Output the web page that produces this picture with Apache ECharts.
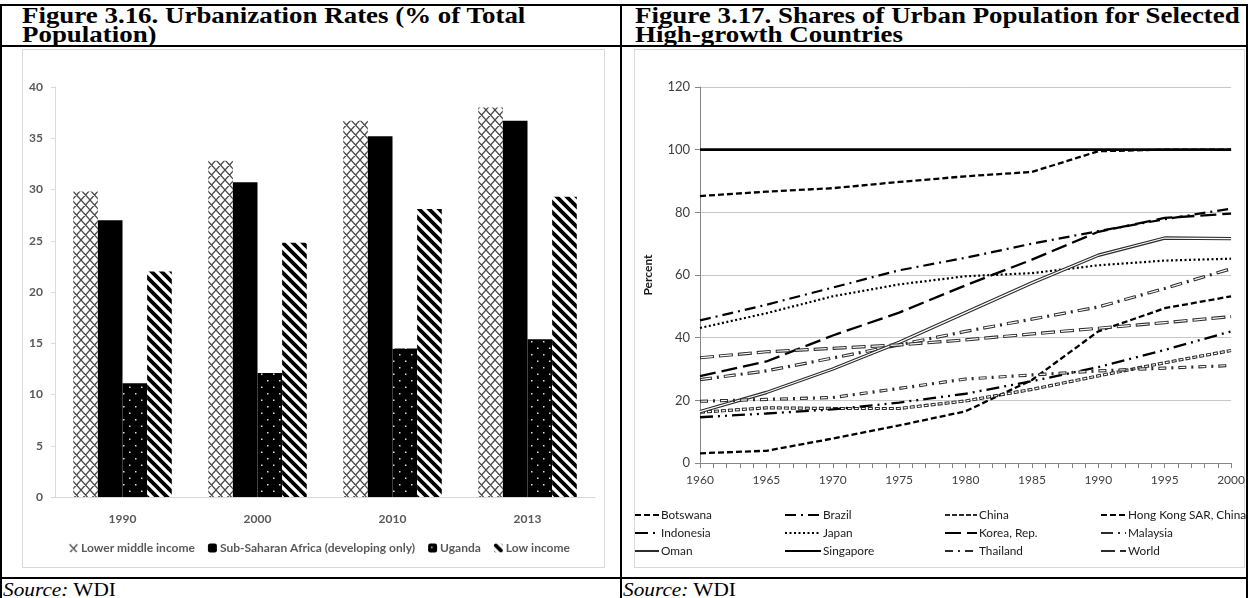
<!DOCTYPE html>
<html><head><meta charset="utf-8">
<script src="https://cdn.jsdelivr.net/npm/echarts@6/dist/echarts.min.js"></script>
<style>
html,body{margin:0;padding:0;width:1248px;height:598px;overflow:hidden;background:#fff;}
.ln{position:absolute;background:#000;}
.frame{position:absolute;border:1px solid #d9d9d9;box-sizing:border-box;}
.title{position:absolute;font-family:"Liberation Serif","Times New Roman",serif;font-weight:bold;font-size:23px;line-height:19px;color:#000;white-space:nowrap;transform:scaleX(1.17);transform-origin:0 0;}
.src{position:absolute;font-family:"Liberation Serif","Times New Roman",serif;font-size:19px;line-height:20px;color:#000;white-space:nowrap;transform:scaleX(1.12);transform-origin:0 0;}
#chart{position:absolute;left:0;top:0;width:1248px;height:598px;}
</style></head><body>
<div class="ln" style="left:0px;top:4px;width:1248px;height:2px"></div>
<div class="ln" style="left:0px;top:4px;width:2px;height:594px"></div>
<div class="ln" style="left:620px;top:4px;width:2px;height:594px"></div>
<div class="ln" style="left:1246px;top:4px;width:2px;height:594px"></div>
<div class="ln" style="left:0px;top:45px;width:1248px;height:2px"></div>
<div class="ln" style="left:0px;top:577px;width:1248px;height:2px"></div>
<div class="title" style="left:22px;top:6px">Figure 3.16. Urbanization Rates (% of Total<br>Population)</div>
<div class="title" style="left:635px;top:6px">Figure 3.17. Shares of Urban Population for Selected<br>High-growth Countries</div>
<div class="frame" style="left:22px;top:49px;width:583px;height:519px"></div>
<div class="frame" style="left:634px;top:49px;width:611px;height:519px"></div>
<div class="src" style="left:3px;top:580px"><i>Source:</i> WDI</div>
<div class="src" style="left:623px;top:580px"><i>Source:</i> WDI</div>
<div id="chart"></div>
<script>
// ---------- Figure 3.16 data ----------
const barYears = ['1990', '2000', '2010', '2013'];
const lowerMiddleIncome = [29.8, 32.8, 36.7, 38.0];
const subSaharanAfrica = [27.0, 30.7, 35.2, 36.7];
const uganda = [11.1, 12.1, 14.5, 15.4];
const lowIncome = [22.0, 24.8, 28.1, 29.3];
const barNames = ['Lower middle income', 'Sub-Saharan Africa (developing only)', 'Uganda', 'Low income'];
const barYTicks = [0, 5, 10, 15, 20, 25, 30, 35, 40];

// ---------- Figure 3.17 data ----------
const lineYears = [1960, 1965, 1970, 1975, 1980, 1985, 1990, 1995, 2000];
const botswana = [3.1, 3.9, 7.8, 12.0, 16.5, 26.5, 42.0, 49.4, 53.2];
const brazil = [45.5, 50.5, 56.0, 61.5, 65.5, 70.0, 74.0, 77.8, 81.2];
const china = [16.2, 17.6, 17.4, 17.4, 19.8, 23.5, 27.8, 32.0, 35.9];
const hongKong = [85.2, 86.6, 87.7, 89.7, 91.5, 92.9, 99.5, 100, 100];
const indonesia = [14.6, 15.8, 17.1, 19.3, 22.1, 26.1, 30.6, 36.1, 42.0];
const japan = [43.1, 47.8, 53.2, 57.0, 59.6, 60.6, 63.1, 64.6, 65.2];
const korea = [27.7, 32.4, 40.7, 48.0, 56.7, 64.9, 73.8, 78.2, 79.6];
const malaysia = [26.6, 29.4, 33.5, 37.7, 42.0, 45.9, 49.8, 55.7, 62.0];
const oman = [16.4, 22.5, 30.0, 38.5, 48.0, 57.5, 66.3, 71.8, 71.6];
const singapore = [100, 100, 100, 100, 100, 100, 100, 100, 100];
const thailand = [19.7, 20.3, 20.9, 23.8, 26.8, 28.1, 29.4, 30.3, 31.1];
const world = [33.6, 35.5, 36.6, 37.7, 39.3, 41.2, 43.0, 44.8, 46.7];
const lineNames = ['Botswana', 'Brazil', 'China', 'Hong Kong SAR, China', 'Indonesia', 'Japan', 'Korea, Rep.', 'Malaysia', 'Oman', 'Singapore', 'Thailand', 'World'];
const lineValues = [botswana, brazil, china, hongKong, indonesia, japan, korea, malaysia, oman, singapore, thailand, world];
const lineYTicks = [0, 20, 40, 60, 80, 100, 120];

// ---------- patterns ----------
function tile(w, h, draw) {
  const c = document.createElement('canvas'); c.width = w; c.height = h;
  const g = c.getContext('2d'); draw(g, w, h); return c;
}
const patCross = tile(9, 10, (g, w, h) => {
  g.fillStyle = '#fff'; g.fillRect(0, 0, w, h);
  g.strokeStyle = '#4a4a4a'; g.lineWidth = 1.3; g.beginPath();
  for (const dx of [-w, 0, w]) for (const dy of [-h, 0, h]) {
    g.moveTo(dx, dy); g.lineTo(dx + w, dy + h);
    g.moveTo(dx + w, dy); g.lineTo(dx, dy + h);
  }
  g.stroke();
});
const patDots = tile(12, 13, (g, w, h) => {
  g.fillStyle = '#000'; g.fillRect(0, 0, w, h);
  g.fillStyle = '#ddd';
  g.fillRect(3, 3, 1.5, 1.5); g.fillRect(9, 9.5, 1.5, 1.5);
});
const patStripe = tile(10, 10, (g, w, h) => {
  g.fillStyle = '#fff'; g.fillRect(0, 0, w, h);
  g.strokeStyle = '#000'; g.lineWidth = 3.8; g.beginPath();
  for (const o of [-20, -10, 0, 10, 20]) { g.moveTo(o - 10, -10); g.lineTo(o + 20, 20); }
  g.stroke();
});
const barFills = [
  { image: patCross, repeat: 'repeat' },
  '#000',
  { image: patDots, repeat: 'repeat' },
  { image: patStripe, repeat: 'repeat' }
];
const barValues = [lowerMiddleIncome, subSaharanAfrica, uganda, lowIncome];

const lineStyles = {
  'Botswana': { type: [6, 3], width: 2.3 },
  'Brazil': { type: [11, 5, 2, 5], width: 2.2 },
  'China': { type: [5, 2], width: 3.2, dbl: true, inner: [3, 4], off: -1 },
  'Hong Kong SAR, China': { type: [6, 3], width: 2.3 },
  'Indonesia': { type: [13, 5, 2, 5, 2, 5], width: 2.3 },
  'Japan': { type: [2, 2.5], width: 2.2 },
  'Korea, Rep.': { type: [16, 6], width: 2.3 },
  'Malaysia': { type: [12, 5, 2, 5], width: 3.2, dbl: true, inner: [10, 14], off: -1 },
  'Oman': { type: 'solid', width: 3.4, dbl: true, inner: 'solid' },
  'Singapore': { type: 'solid', width: 2.6 },
  'Thailand': { type: [8, 5, 2, 5], width: 3.2, dbl: true, inner: [6, 14], off: -1 },
  'World': { type: [14, 5], width: 3.2, dbl: true, inner: [12, 7], off: -1 }
};

const FONT = 'Lato, "DejaVu Sans Condensed", sans-serif';
const CLEAR = 'rgba(0,0,0,0)';

const series = [];
barNames.forEach((n, i) => {
  series.push({
    name: n, type: 'bar', xAxisIndex: 0, yAxisIndex: 0,
    data: barValues[i], barGap: '0%', barCategoryGap: '27%',
    itemStyle: { color: barFills[i] }, emphasis: { disabled: true }
  });
});
lineNames.forEach((n, i) => {
  const st = lineStyles[n];
  const data = lineYears.map((y, k) => [y, lineValues[i][k]]);
  series.push({
    name: n, type: 'line', xAxisIndex: 1, yAxisIndex: 1, data,
    symbol: 'none', showSymbol: false,
    itemStyle: { color: CLEAR, borderWidth: 0 },
    lineStyle: { color: st.dbl ? '#2b2b2b' : '#000', width: st.width, type: st.type, cap: 'butt' },
    emphasis: { disabled: true }
  });
  if (st.dbl) {
    series.push({
      name: n + ' (inner)', type: 'line', xAxisIndex: 1, yAxisIndex: 1, data,
      symbol: 'none', showSymbol: false, silent: true,
      itemStyle: { color: CLEAR },
      lineStyle: { color: '#fff', width: 1.2, type: st.inner, dashOffset: st.off || 0 },
      emphasis: { disabled: true }
    });
  }
});

const legendCols = [[0, 4, 8], [1, 5, 9], [2, 6, 10], [3, 7, 11]];
const colX = [634, 784, 944, 1100];
const colIconW = [24, 36, 32, 25];
const lineLegends = legendCols.map((idx, c) => ({
  orient: 'vertical', left: colX[c], top: 509, padding: 0, itemGap: 6,
  itemWidth: colIconW[c], itemHeight: 12, selectedMode: false,
  itemStyle: { color: CLEAR, borderWidth: 0 },
  data: idx.map(k => lineNames[k]),
  textStyle: { fontFamily: FONT, fontSize: 11.8, color: '#1a1a1a', padding: [0, 0, 0, -3] }
}));

const chart = echarts.init(document.getElementById('chart'), null, { renderer: 'canvas' });
chart.setOption({
  animation: false,
  backgroundColor: 'transparent',
  grid: [
    { left: 55, top: 87, right: 1248 - 595, bottom: 598 - 497, containLabel: false },
    { left: 700, top: 87, right: 1248 - 1237, bottom: 598 - 463, containLabel: false }
  ],
  xAxis: [
    {
      type: 'category', gridIndex: 0, data: barYears,
      axisLine: { lineStyle: { color: '#d9d9d9', width: 1 } },
      axisTick: { show: false },
      axisLabel: { fontFamily: FONT, fontWeight: 'bold', fontSize: 12, color: '#595959', margin: 16 }
    },
    {
      type: 'value', gridIndex: 1, min: 1960, max: 2000, interval: 5,
      axisLine: { lineStyle: { color: '#868686' } },
      axisTick: { show: true, length: 5, lineStyle: { color: '#868686' } },
      minorTick: { show: true, splitNumber: 5, length: 5, lineStyle: { color: '#868686' } },
      splitLine: { show: false },
      axisLabel: { fontFamily: FONT, fontSize: 12, color: '#404040', margin: 11, formatter: v => String(v) }
    }
  ],
  yAxis: [
    {
      type: 'value', gridIndex: 0, min: barYTicks[0], max: barYTicks[barYTicks.length - 1], interval: 5,
      axisLine: { show: true, lineStyle: { color: '#d9d9d9' } },
      axisTick: { show: true, length: 4, lineStyle: { color: '#d9d9d9' } },
      splitLine: { show: false },
      axisLabel: { fontFamily: FONT, fontWeight: 'bold', fontSize: 12, color: '#595959', margin: 12 }
    },
    {
      type: 'value', gridIndex: 1, min: lineYTicks[0], max: lineYTicks[lineYTicks.length - 1], interval: 20,
      name: 'Percent', nameLocation: 'middle', nameGap: 46, nameRotate: 90,
      nameTextStyle: { fontFamily: FONT, fontWeight: 'bold', fontSize: 12, color: '#1a1a1a' },
      axisLine: { show: true, lineStyle: { color: '#868686' } },
      axisTick: { show: true, length: 5, lineStyle: { color: '#868686' } },
      splitLine: { show: true, lineStyle: { color: '#c8c8c8' } },
      axisLabel: { fontFamily: FONT, fontSize: 13, color: '#404040', margin: 10 }
    }
  ],
  legend: [
    {
      left: 64, top: 537, itemWidth: 9, itemHeight: 9, itemGap: 13, selectedMode: false,
      data: barNames,
      textStyle: { fontFamily: FONT, fontWeight: 'bold', fontSize: 12, color: '#595959', padding: [0, 0, 0, -2] }
    }
  ].concat(lineLegends),
  series
});
</script>
</body></html>
